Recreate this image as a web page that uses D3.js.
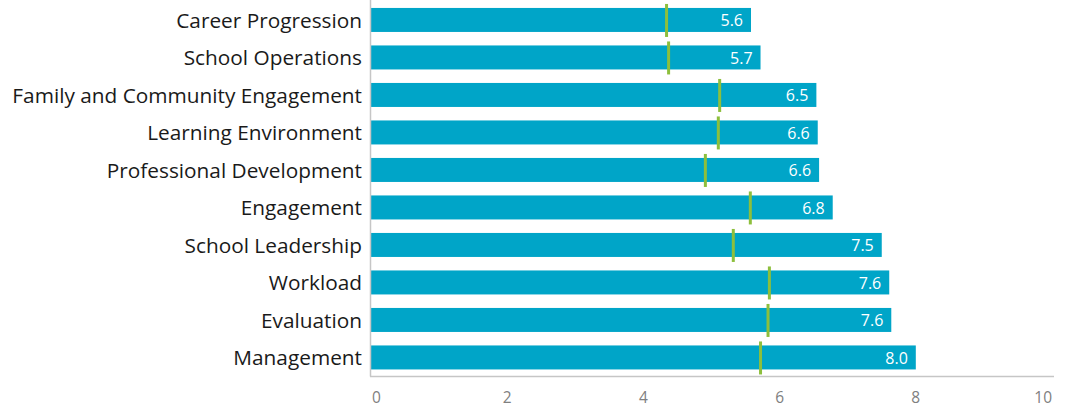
<!DOCTYPE html>
<html>
<head>
<meta charset="utf-8">
<script src="https://cdn.jsdelivr.net/npm/d3@7"></script>
<style>
  body { margin: 0; background: #fff; }
  svg { display: block; font-family: "Open Sans", "Noto Sans", sans-serif; }
</style>
</head>
<body>
<div id="chart"></div>
<script>
const categories = ["Career Progression", "School Operations", "Family and Community Engagement",
  "Learning Environment", "Professional Development", "Engagement", "School Leadership",
  "Workload", "Evaluation", "Management"];
const scores = [5.58, 5.72, 6.54, 6.56, 6.58, 6.78, 7.50, 7.61, 7.64, 8.00];
const benchmarks = [4.34, 4.37, 5.12, 5.10, 4.91, 5.57, 5.32, 5.85, 5.83, 5.72];
const xTicks = [0, 2, 4, 6, 8, 10];

const width = 1068, height = 410;
const margin = {left: 371, right: 15, top: 1.2, bottom: 33};

const data = categories.map((c, i) => ({name: c, value: scores[i], bench: benchmarks[i]}));

const svg = d3.select("#chart").append("svg")
  .attr("width", width).attr("height", height);

const x = d3.scaleLinear().domain([0, 10]).range([margin.left, 1052]);
const y = d3.scaleBand().domain(categories)
  .range([margin.top, height - margin.bottom - 0.8])
  .paddingInner(0.36).paddingOuter(0.18);

const axisY = height - margin.bottom - 0.5;

// barres
svg.append("g").selectAll("rect").data(data).join("rect")
  .attr("x", x(0))
  .attr("y", d => y(d.name))
  .attr("width", d => x(d.value) - x(0))
  .attr("height", y.bandwidth())
  .attr("fill", "#00a5c8");

// valeurs
svg.append("g").selectAll("text").data(data).join("text")
  .attr("x", d => x(d.value) - 8)
  .attr("y", d => y(d.name) + y.bandwidth() / 2 + 0.5)
  .attr("dy", "0.35em")
  .attr("text-anchor", "end")
  .attr("fill", "#fff")
  .attr("font-size", 16)
  .text(d => d3.format(".1f")(d.value));

// repères
svg.append("g").selectAll("line").data(data).join("line")
  .attr("x1", d => x(d.bench)).attr("x2", d => x(d.bench))
  .attr("y1", d => y(d.name) - 4)
  .attr("y2", d => y(d.name) + y.bandwidth() + 5)
  .attr("stroke", "#8dbf3c")
  .attr("stroke-width", 3);

// axe vertical
svg.append("line")
  .attr("x1", x(0) - 0.5).attr("x2", x(0) - 0.5)
  .attr("y1", 0).attr("y2", axisY)
  .attr("stroke", "#c6c6c6").attr("stroke-width", 1.5);

// axe horizontal
svg.append("line")
  .attr("x1", x(0) - 1).attr("x2", 1054)
  .attr("y1", axisY).attr("y2", axisY)
  .attr("stroke", "#c6c6c6").attr("stroke-width", 1.5);

svg.append("g").selectAll("text").data(xTicks).join("text")
  .attr("x", d => d === 0 ? x(d) + 1 : x(d))
  .attr("y", 398)
  .attr("dy", "0.35em")
  .attr("text-anchor", d => d === 0 ? "start" : d === 10 ? "end" : "middle")
  .attr("fill", "#808080")
  .attr("font-size", 15.5)
  .text(d => d);

// libellés
svg.append("g").selectAll("text").data(categories).join("text")
  .attr("x", x(0) - 9)
  .attr("y", d => y(d) + y.bandwidth() / 2 + 0.5)
  .attr("dy", "0.35em")
  .attr("text-anchor", "end")
  .attr("fill", "#1a1a1a")
  .attr("font-size", 20.8)
  .text(d => d);
</script>
</body>
</html>
